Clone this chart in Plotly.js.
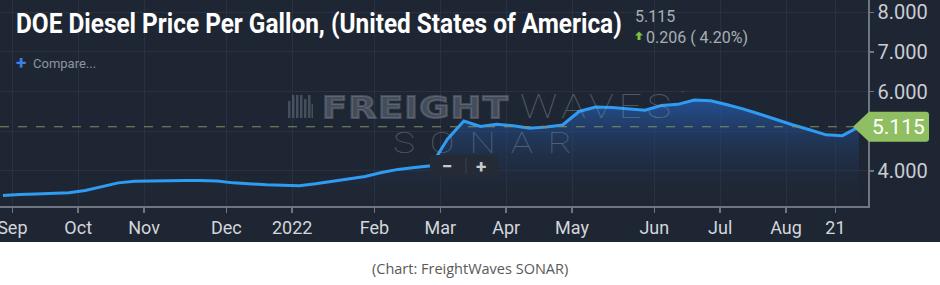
<!DOCTYPE html>
<html><head><meta charset="utf-8">
<script src="https://cdn.plot.ly/plotly-3.0.1.min.js"></script>
<style>html,body{margin:0;padding:0;background:#fff;}#chart{width:940px;height:285px;}</style>
</head><body><div id="chart"></div>
<script>
// ---- data ----
const weeks = ['2021-08-30','2021-09-06','2021-09-13','2021-09-20','2021-09-27',
  '2021-10-04','2021-10-11','2021-10-18','2021-10-25',
  '2021-11-01','2021-11-08','2021-11-15','2021-11-22','2021-11-29',
  '2021-12-06','2021-12-13','2021-12-20','2021-12-27',
  '2022-01-03','2022-01-10','2022-01-17','2022-01-24','2022-01-31',
  '2022-02-07','2022-02-14','2022-02-21','2022-02-28',
  '2022-03-07','2022-03-14','2022-03-21','2022-03-28',
  '2022-04-04','2022-04-11','2022-04-18','2022-04-25',
  '2022-05-02','2022-05-09','2022-05-16','2022-05-23','2022-05-30',
  '2022-06-06','2022-06-13','2022-06-20','2022-06-27',
  '2022-07-04','2022-07-11','2022-07-18','2022-07-25',
  '2022-08-01','2022-08-08','2022-08-15','2022-08-22','2022-08-29'];
const prices = [3.38,3.41,3.42,3.43,3.45,
  3.51,3.61,3.70,3.74,
  3.75,3.76,3.76,3.76,3.75,
  3.70,3.67,3.65,3.64,
  3.63,3.68,3.74,3.80,3.86,
  3.96,4.04,4.09,4.13,
  4.80,5.26,5.12,5.18,
  5.14,5.08,5.11,5.16,
  5.50,5.61,5.60,5.57,5.53,
  5.65,5.68,5.79,5.77,
  5.67,5.56,5.43,5.29,
  5.16,5.04,4.91,4.89,5.115];
const tickWeeks = ['2021-09-06','2021-10-04','2021-11-01','2021-12-06','2022-01-03','2022-02-07',
  '2022-03-07','2022-04-04','2022-05-02','2022-06-06','2022-07-04','2022-08-01','2022-08-22'];
const tickLabels = ['Sep','Oct','Nov','Dec','2022','Feb','Mar','Apr','May','Jun','Jul','Aug','21'];
const yTicks = [4,5,6,7,8];
const lastValue = 5.115;
const changeValue = 0.206;
const changePct = 4.20;
const chartTitle = 'DOE Diesel Price Per Gallon, (United States of America)';
const caption = '(Chart: FreightWaves SONAR)';

// ---- layout helpers (pixel -> paper) ----
const W = 940, H = 285, ML = 0, MR = 72, MT = 0, MB = 79;
const PW = W - ML - MR, PH = H - MT - MB;
const px = x => (x - ML) / PW;
const py = y => (PH + MT - y) / PH;
const TICK_SHIFT = 0.43;
const TITLE_W = 606;
const WM_WIDTHS = {FREIGHT: 187, WAVES: 156, SONAR: 194};

const xIdx = weeks.map((w, i) => i);
const tickPos = tickWeeks.map(w => weeks.indexOf(w) - TICK_SHIFT);

const BG = '#1f2633';
const WM = 'rgba(150,160,175,0.33)';
const WM2 = 'rgba(150,160,175,0.42)';

const trace = {
  x: xIdx, y: prices, type: 'scatter', mode: 'lines',
  line: {color: '#2e9cf2', width: 3},
  fill: 'tozeroy',
  fillgradient: {type: 'vertical', start: 3.1, stop: 5.8,
    colorscale: [[0, 'rgba(31,38,51,0)'], [1, 'rgba(36,88,165,0.82)']]},
  hoverinfo: 'skip', showlegend: false
};

const shapes = [
  {type: 'rect', xref: 'paper', yref: 'paper', x0: -0.01, x1: 1.1, y0: py(285), y1: py(242),
   fillcolor: '#ffffff', line: {width: 0}, layer: 'below'},
  {type: 'line', xref: 'paper', yref: 'y', x0: 0, x1: 1, y0: lastValue, y1: lastValue,
   line: {color: '#7f8f6c', width: 1.2, dash: 'dash'}},
  {type: 'path', xref: 'paper', yref: 'y', xsizemode: 'pixel', ysizemode: 'pixel',
   xanchor: 1, yanchor: lastValue,
   path: 'M -15 0 L 1 15 L 58 15 Q 61 15 61 12 L 61 -12 Q 61 -15 58 -15 L 1 -15 Z',
   fillcolor: '#8fbf62', line: {width: 0}},
  {type: 'rect', xref: 'paper', yref: 'paper', x0: px(430), x1: px(498), y0: py(177), y1: py(155),
   fillcolor: '#242b37', line: {width: 0}},
  {type: 'line', xref: 'paper', yref: 'paper', x0: px(466), x1: px(466), y0: py(174), y1: py(158),
   line: {color: '#3a4250', width: 1}},
  {type: 'path', xref: 'paper', yref: 'paper',
   path: `M ${px(639)} ${py(31.5)} L ${px(643)} ${py(35.5)} L ${px(640.5)} ${py(35.5)} L ${px(640.5)} ${py(40)} L ${px(637.5)} ${py(40)} L ${px(637.5)} ${py(35.5)} L ${px(635)} ${py(35.5)} Z`,
   fillcolor: '#7cc242', line: {width: 0}}
];
[[288,290.5,101,118],[292,294.5,95,118],[296,298.5,95,118],[300,302.5,95,118],[304,306.5,99,118],[308,310.5,95,118],[311.5,313,104,118]]
  .forEach(b => shapes.push({type: 'rect', xref: 'paper', yref: 'paper', x0: px(b[0]), x1: px(b[1]),
    y0: py(b[3]), y1: py(b[2]), fillcolor: WM, line: {width: 0}}));

const ann = (x, y, text, font, xanchor = 'left') => ({xref: 'paper', yref: 'paper', x: px(x), y: py(y),
  text, font, xanchor, yanchor: 'middle', showarrow: false});

const annotations = [
  ann(633, 17, lastValue.toFixed(3), {family: 'Roboto', size: 16, color: '#a9aeb5'}),
  ann(644, 37, changeValue.toFixed(3) + ' ( ' + changePct.toFixed(2) + '%)', {family: 'Roboto', size: 16, color: '#a9aeb5'}),
  ann(14, 63, '+', {family: 'Roboto', size: 19, color: '#3d7fe6', weight: 'bold'}),
  ann(31, 64, 'Compare...', {family: 'Roboto', size: 13, color: '#8d95a0'}),
  ann(320, 107.5, '<span style="letter-spacing:1px;stroke:rgba(150,160,175,0.33);stroke-width:1.8px">FREIGHT</span>', {family: 'DejaVu Sans', size: 30, color: WM, weight: 'bold'}),
  ann(518, 106, '<span style="letter-spacing:4px">WAVES</span>', {family: 'Roboto', size: 34, color: WM2, weight: 100}),
  ann(678, 94, '™', {family: 'Roboto', size: 7, color: WM}),
  ann(391, 142.5, '<span style="letter-spacing:12px">SONAR</span>', {family: 'Roboto', size: 30, color: WM2, weight: 100}),
  ann(447, 166.5, '−', {family: 'Roboto', size: 19, color: '#c5cad0', weight: 'bold'}, 'center'),
  ann(481, 166.5, '+', {family: 'Roboto', size: 19, color: '#c5cad0', weight: 'bold'}, 'center'),
  {xref: 'paper', yref: 'y', x: 1, y: lastValue, xanchor: 'left', yanchor: 'middle', xshift: 2,
   text: lastValue.toFixed(3), font: {family: 'Roboto', size: 21, color: '#ffffff'}, showarrow: false},
  ann(470, 268, caption, {family: 'Open Sans', size: 14.5, color: '#595959'}, 'center')
];

const layout = {
  width: W, height: H,
  margin: {l: ML, r: MR, t: MT, b: MB, pad: 0},
  paper_bgcolor: BG, plot_bgcolor: BG,
  title: {text: '<b>' + chartTitle + '</b>', x: 16 / W, xanchor: 'left', xref: 'container',
    y: 1 - 24 / H, yanchor: 'middle', yref: 'container',
    font: {family: 'Roboto', size: 27, color: '#ffffff'}},
  xaxis: {range: [-0.18, 52.55], tickmode: 'array', tickvals: tickPos, ticktext: tickLabels,
    ticklabeloverflow: 'allow',
    showgrid: true, gridcolor: '#2a3241', gridwidth: 1, zeroline: false,
    showline: true, linecolor: '#707681', linewidth: 1.5,
    ticks: 'outside', ticklen: 5, tickcolor: '#707681', tickwidth: 1.5,
    tickfont: {family: 'Roboto', size: 18, color: '#d3d6db'}, fixedrange: true},
  yaxis: {range: [3.117, 8.31], side: 'right', tickmode: 'array', tickvals: yTicks,
    // the tick label hidden behind the last-value badge is left blank
    ticktext: yTicks.map(v => Math.abs(v - lastValue) < 0.4 ? '' : v.toFixed(3)),
    showgrid: true, gridcolor: '#2a3241', gridwidth: 1, zeroline: false,
    showline: true, linecolor: '#707681', linewidth: 1.5,
    ticks: 'outside', ticklen: 4, tickcolor: '#707681', tickwidth: 1.5,
    tickfont: {family: 'Roboto', size: 20, color: '#c9cdd3'}, fixedrange: true},
  shapes, annotations
};

function squeeze(el, target) {
  const bb = el.getBBox();
  if (!bb.width) return;
  const s = target / bb.width;
  el.setAttribute('transform', `translate(${bb.x * (1 - s)},0) scale(${s},1)`);
}

Plotly.newPlot('chart', [trace], layout, {displayModeBar: false, staticPlot: true}).then(gd => {
  const t = gd.querySelector('.gtitle');
  if (t) squeeze(t, TITLE_W);
  gd.querySelectorAll('.annotation-text').forEach(el => {
    const key = el.textContent.trim();
    if (WM_WIDTHS[key]) squeeze(el, WM_WIDTHS[key]);
  });
});
</script></body></html>
